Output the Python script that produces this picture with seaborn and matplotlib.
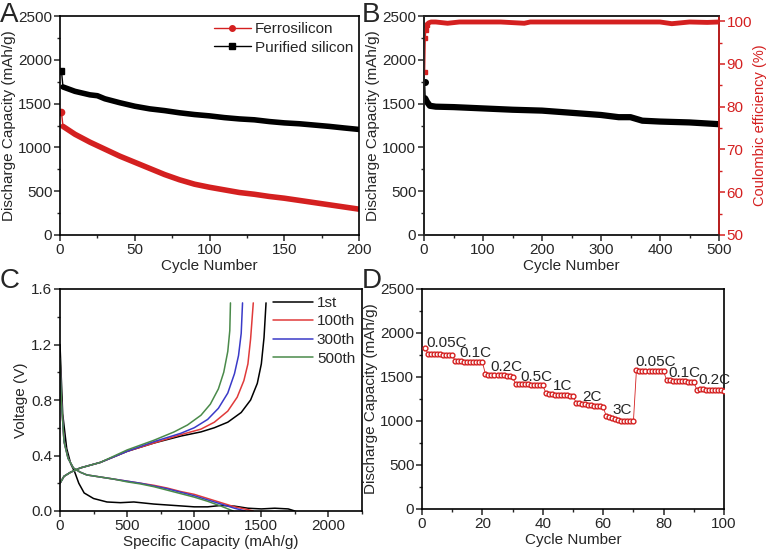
import matplotlib
matplotlib.use("Agg")
import matplotlib.pyplot as plt
from matplotlib.lines import Line2D
from matplotlib.ticker import MultipleLocator
import pandas as pd
import seaborn as sns

# ---- Panel A: cycling of ferrosilicon vs purified silicon ----
cyc_a = [1, 2, 10, 20, 25, 30, 40, 50, 60, 70, 80, 90, 100, 110, 120, 130, 140,
         150, 160, 170, 180, 190, 200]
purified = [1870, 1690, 1640, 1600, 1590, 1555, 1510, 1470, 1440, 1420, 1395, 1375,
            1360, 1340, 1325, 1315, 1295, 1280, 1270, 1255, 1240, 1222, 1205]
ferro = [1400, 1240, 1150, 1060, 1020, 980, 900, 830, 760, 690, 630, 580, 545, 515,
         485, 465, 440, 420, 395, 370, 345, 320, 295]

# ---- Panel B: long cycling + coulombic efficiency ----
cyc_b = [1, 2, 5, 10, 20, 50, 100, 150, 200, 230, 250, 300, 330, 350, 370, 400,
         450, 500]
cap_b = [1750, 1560, 1520, 1475, 1465, 1460, 1445, 1430, 1420, 1405, 1395, 1370,
         1345, 1345, 1305, 1295, 1285, 1265]
cyc_ce = [1, 2, 3, 5, 8, 12, 20, 40, 60, 80, 100, 130, 170, 180, 200, 250, 300,
          350, 400, 420, 450, 480, 500]
ce = [88, 96, 98, 99.2, 99.6, 99.8, 99.8, 99.5, 99.8, 99.8, 99.8, 99.8, 99.5, 99.8,
      99.8, 99.8, 99.8, 99.8, 99.8, 99.4, 99.8, 99.7, 99.8]

# ---- Panel C: voltage profiles ----
chg_1st_x = [0, 30, 80, 150, 300, 500, 700, 900, 1050, 1150, 1250, 1350, 1420,
             1470, 1500, 1520, 1535]
chg_1st_v = [0.2, 0.25, 0.28, 0.31, 0.35, 0.43, 0.49, 0.54, 0.57, 0.6, 0.64, 0.71,
             0.8, 0.92, 1.06, 1.25, 1.5]
chg_100_x = [0, 30, 80, 150, 300, 500, 700, 900, 1050, 1150, 1250, 1320, 1370,
             1400, 1420, 1440]
chg_100_v = [0.2, 0.25, 0.28, 0.31, 0.35, 0.43, 0.49, 0.55, 0.59, 0.64, 0.72, 0.82,
             0.94, 1.06, 1.24, 1.5]
chg_300_x = [0, 30, 80, 150, 300, 500, 700, 900, 1000, 1100, 1180, 1250, 1300,
             1330, 1350, 1360]
chg_300_v = [0.2, 0.25, 0.28, 0.31, 0.35, 0.43, 0.5, 0.56, 0.6, 0.66, 0.74, 0.85,
             0.99, 1.12, 1.28, 1.5]
chg_500_x = [0, 30, 80, 150, 300, 500, 700, 850, 950, 1050, 1120, 1180, 1220,
             1250, 1265, 1270]
chg_500_v = [0.2, 0.25, 0.28, 0.31, 0.35, 0.44, 0.51, 0.57, 0.62, 0.69, 0.77, 0.88,
             1.0, 1.15, 1.3, 1.5]

dis_1st_x = [0, 20, 50, 80, 110, 140, 180, 250, 350, 450, 550, 700, 850, 1000,
             1100, 1200, 1300, 1400, 1500, 1600, 1700, 1750]
dis_1st_v = [1.2, 0.7, 0.45, 0.34, 0.28, 0.2, 0.13, 0.09, 0.065, 0.06, 0.065, 0.05,
             0.04, 0.03, 0.03, 0.04, 0.035, 0.02, 0.015, 0.02, 0.015, 0.0]
dis_100_x = [0, 10, 30, 60, 100, 150, 200, 300, 400, 500, 600, 700, 800, 900, 1000,
             1100, 1200, 1300, 1400, 1440]
dis_100_v = [1.1, 0.8, 0.5, 0.38, 0.31, 0.28, 0.26, 0.245, 0.23, 0.215, 0.2, 0.185,
             0.165, 0.14, 0.12, 0.09, 0.06, 0.03, 0.01, 0.0]
dis_300_x = [0, 10, 30, 60, 100, 150, 200, 300, 400, 500, 600, 700, 800, 900, 1000,
             1100, 1200, 1300, 1380]
dis_300_v = [1.1, 0.8, 0.5, 0.38, 0.31, 0.28, 0.26, 0.245, 0.23, 0.215, 0.2, 0.18,
             0.16, 0.135, 0.11, 0.08, 0.05, 0.02, 0.0]
dis_500_x = [0, 10, 30, 60, 100, 150, 200, 300, 400, 500, 600, 700, 800, 900, 1000,
             1100, 1200, 1290]
dis_500_v = [1.1, 0.8, 0.5, 0.38, 0.31, 0.28, 0.26, 0.245, 0.23, 0.21, 0.195, 0.175,
             0.15, 0.125, 0.1, 0.07, 0.035, 0.0]

# ---- Panel D: rate capability ----
cyc_d = list(range(1, 101))
cap_d = [1830, 1765, 1760, 1758, 1757, 1756, 1755, 1755, 1754, 1753,
         1680, 1678, 1677, 1675, 1673, 1672, 1671, 1670, 1669, 1668,
         1535, 1525, 1522, 1520, 1520, 1518, 1518, 1517, 1515, 1495,
         1420, 1418, 1417, 1416, 1415, 1414, 1413, 1412, 1410, 1405,
         1320, 1310, 1305, 1300, 1298, 1295, 1293, 1290, 1288, 1285,
         1210, 1200, 1195, 1190, 1185, 1180, 1175, 1170, 1165, 1160,
         1055, 1040, 1030, 1020, 1010, 1003, 1000, 1000, 998, 995,
         1575, 1572, 1570, 1568, 1567, 1566, 1565, 1565, 1564, 1563,
         1465, 1462, 1460, 1458, 1455, 1453, 1450, 1448, 1446, 1440,
         1355, 1360, 1358, 1356, 1355, 1353, 1352, 1350, 1348, 1345]
rate_labels = ["0.05C", "0.1C", "0.2C", "0.5C", "1C", "2C", "3C", "0.05C", "0.1C", "0.2C"]
rate_x = [1.5, 12.5, 22.5, 32.5, 43.5, 53, 63, 70.5, 81.5, 91.5]
rate_y = [1845, 1725, 1570, 1455, 1355, 1230, 1080, 1625, 1505, 1420]

sns.set_style("ticks")
plt.rcParams["font.family"] = ["Liberation Sans", "DejaVu Sans"]
plt.rcParams["xtick.direction"] = "out"
plt.rcParams["ytick.direction"] = "out"

RED = "#d42020"
LAB = 11
TICK = 11
fig = plt.figure(figsize=(7.67, 5.54), dpi=100)
W, H = 767, 554


def box(l, t, r, b):
    return [l / W, 1 - b / H, (r - l) / W, (b - t) / H]


def style(ax):
    for s in ax.spines.values():
        s.set_visible(True)
        s.set_linewidth(1.2)
        s.set_color("black")
    ax.tick_params(which="major", length=4, width=1.1, labelsize=TICK, pad=1.5,
                   top=False, right=False)
    ax.tick_params(which="minor", length=2.5, width=1, top=False, right=False)


ax_a = fig.add_axes(box(60, 16, 359, 235))
ax_b = fig.add_axes(box(424, 16, 719, 235))
ax_c = fig.add_axes(box(60, 289, 362, 511))
ax_d = fig.add_axes(box(422, 289, 724, 509))

# A: thick trace from cycle 2 on, thin step from the first cycle
df_a = pd.DataFrame({"cycle": cyc_a[1:] * 2, "cap": ferro[1:] + purified[1:],
                     "sample": ["Ferrosilicon"] * (len(cyc_a) - 1)
                     + ["Purified silicon"] * (len(cyc_a) - 1)})
sns.lineplot(data=df_a, x="cycle", y="cap", hue="sample",
             palette={"Ferrosilicon": RED, "Purified silicon": "black"},
             linewidth=4, legend=False, ax=ax_a)
ax_a.plot(cyc_a[:2], ferro[:2], color=RED, lw=1)
ax_a.plot(cyc_a[:1], ferro[:1], color=RED, marker="o", ms=4.5, ls="none")
ax_a.plot(cyc_a[:2], purified[:2], color="black", lw=1)
ax_a.plot(cyc_a[:1], purified[:1], color="black", marker="s", ms=4.5, ls="none")
ax_a.set_xlim(0, 200)
ax_a.set_ylim(0, 2500)
ax_a.xaxis.set_major_locator(MultipleLocator(50))
ax_a.xaxis.set_minor_locator(MultipleLocator(25))
ax_a.yaxis.set_major_locator(MultipleLocator(500))
ax_a.yaxis.set_minor_locator(MultipleLocator(250))
ax_a.set_xlabel("Cycle Number", fontsize=LAB, labelpad=2)
ax_a.set_ylabel("Discharge Capacity (mAh/g)", fontsize=LAB, labelpad=2)
handles = [Line2D([], [], color=RED, marker="o", ms=4, lw=1),
           Line2D([], [], color="black", marker="s", ms=4, lw=1)]
ax_a.legend(handles, ["Ferrosilicon", "Purified silicon"], frameon=False,
            loc="upper right", fontsize=LAB, handlelength=2.4, borderaxespad=0.0,
            handletextpad=0.25, labelspacing=0.3)
style(ax_a)

# B
sns.lineplot(x=cyc_b[1:], y=cap_b[1:], color="black", linewidth=4.5, ax=ax_b)
ax_b.plot(cyc_b[:2], cap_b[:2], color="black", lw=1)
ax_b.plot(cyc_b[:1], cap_b[:1], "o", color="black", ms=4)
ax_b.set_xlim(0, 500)
ax_b.set_ylim(0, 2500)
ax_b.xaxis.set_major_locator(MultipleLocator(100))
ax_b.xaxis.set_minor_locator(MultipleLocator(50))
ax_b.yaxis.set_major_locator(MultipleLocator(500))
ax_b.yaxis.set_minor_locator(MultipleLocator(250))
ax_b.set_xlabel("Cycle Number", fontsize=LAB, labelpad=2)
ax_b.set_ylabel("Discharge Capacity (mAh/g)", fontsize=LAB, labelpad=2)
style(ax_b)
ax_b2 = ax_b.twinx()
sns.lineplot(x=cyc_ce[3:], y=ce[3:], color=RED, linewidth=3.5, ax=ax_b2)
ax_b2.plot(cyc_ce[:4], ce[:4], "s-", color=RED, ms=3.5, lw=1)
ax_b2.set_ylim(50, 101.2)
ax_b2.yaxis.set_major_locator(MultipleLocator(10))
ax_b2.yaxis.set_minor_locator(MultipleLocator(5))
ax_b2.set_ylabel("Coulombic efficiency (%)", color=RED, fontsize=10.5, labelpad=0.5)
for s in ax_b2.spines.values():
    s.set_linewidth(1.2)
ax_b2.spines["right"].set_color(RED)
ax_b2.tick_params(axis="y", which="major", colors=RED, length=4, width=1.1,
                  labelsize=TICK, pad=1.5)
ax_b2.tick_params(axis="y", which="minor", colors=RED, length=2.5, width=1)

# C
curves = [("1st", "black", chg_1st_x, chg_1st_v, dis_1st_x, dis_1st_v),
          ("100th", "#e03a3a", chg_100_x, chg_100_v, dis_100_x, dis_100_v),
          ("300th", "#3a3ac8", chg_300_x, chg_300_v, dis_300_x, dis_300_v),
          ("500th", "#4a8a4a", chg_500_x, chg_500_v, dis_500_x, dis_500_v)]
for name, col, cx, cv, dx, dv in curves:
    sns.lineplot(x=cx, y=cv, color=col, linewidth=1.1, sort=False, ax=ax_c, label=name)
    sns.lineplot(x=dx, y=dv, color=col, linewidth=1.1, sort=False, ax=ax_c)
ax_c.set_xlim(0, 2250)
ax_c.set_ylim(0, 1.6)
ax_c.xaxis.set_major_locator(MultipleLocator(500))
ax_c.xaxis.set_minor_locator(MultipleLocator(250))
ax_c.yaxis.set_major_locator(MultipleLocator(0.4))
ax_c.yaxis.set_minor_locator(MultipleLocator(0.2))
ax_c.set_xlabel("Specific Capacity (mAh/g)", fontsize=LAB, labelpad=2)
ax_c.set_ylabel("Voltage (V)", fontsize=LAB, labelpad=2)
ax_c.legend(frameon=False, loc="upper right", fontsize=LAB, handlelength=2.6,
            borderaxespad=0.05, handletextpad=0.25, labelspacing=0.3)
style(ax_c)

# D
sns.lineplot(x=cyc_d, y=cap_d, color=RED, linewidth=0.6, ax=ax_d)
sns.scatterplot(x=cyc_d, y=cap_d, marker="o", s=12, facecolor="white",
                edgecolor=RED, linewidth=1, zorder=3, ax=ax_d)
for lab, tx, ty in zip(rate_labels, rate_x, rate_y):
    ax_d.text(tx, ty, lab, fontsize=LAB, ha="left", va="baseline")
ax_d.set_xlim(0, 100)
ax_d.set_ylim(0, 2500)
ax_d.xaxis.set_major_locator(MultipleLocator(20))
ax_d.xaxis.set_minor_locator(MultipleLocator(10))
ax_d.yaxis.set_major_locator(MultipleLocator(500))
ax_d.yaxis.set_minor_locator(MultipleLocator(250))
ax_d.set_xlabel("Cycle Number", fontsize=LAB, labelpad=2)
ax_d.set_ylabel("Discharge Capacity (mAh/g)", fontsize=LAB, labelpad=2)
style(ax_d)

for letter, x, y in [("A", 0, 2), ("B", 362, 2), ("C", 0, 268), ("D", 362, 268)]:
    fig.text(x / W, 1 - y / H, letter, fontsize=20, ha="left", va="top")

fig.savefig("out.png", dpi=100)
